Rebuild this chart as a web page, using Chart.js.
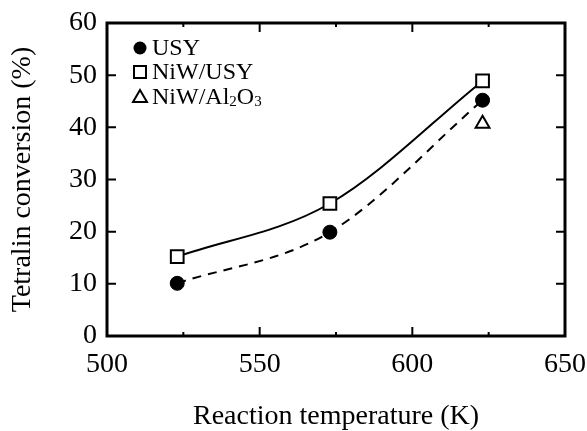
<!DOCTYPE html>
<html>
<head>
<meta charset="utf-8">
<script src="https://cdn.jsdelivr.net/npm/chart.js@4"></script>
<style>
  html, body { margin: 0; padding: 0; background: #fff; }
  #wrap { width: 587px; height: 431px; }
</style>
</head>
<body>
<div id="wrap"><canvas id="chart" width="587" height="431"></canvas></div>
<script>
// reaction temperatures (K)
const temps = [523, 573, 623];
// tetralin conversion (%)
const usy = [10.1, 19.9, 45.2];
const niwUsy = [15.2, 25.4, 48.9];
const niwAlTemps = [623];
const niwAl = [40.7];

const xTicks = [500, 550, 600, 650];
const xMinor = [525, 575, 625];
const yTicks = [0, 10, 20, 30, 40, 50, 60];

const FONT = 'Liberation Serif';

function pts(xs, ys) {
  return xs.map((x, i) => ({x: x, y: ys[i]}));
}

// frame with inward ticks on all four sides
const framePlugin = {
  id: 'frame',
  afterDraw(chart) {
    const ctx = chart.ctx;
    const a = chart.chartArea;
    const xs = chart.scales.x, ys = chart.scales.y;
    ctx.save();
    ctx.strokeStyle = '#000';
    ctx.lineWidth = 3;
    ctx.strokeRect(a.left, a.top, a.right - a.left, a.bottom - a.top);
    ctx.lineWidth = 2;
    ctx.beginPath();
    const xt = (v, len) => {
      const px = xs.getPixelForValue(v);
      ctx.moveTo(px, a.bottom); ctx.lineTo(px, a.bottom - len);
      ctx.moveTo(px, a.top); ctx.lineTo(px, a.top + len);
    };
    xTicks.forEach(v => xt(v, 9));
    xMinor.forEach(v => xt(v, 4));
    yTicks.forEach(v => {
      const py = ys.getPixelForValue(v);
      ctx.moveTo(a.left, py); ctx.lineTo(a.left + 9, py);
      ctx.moveTo(a.right, py); ctx.lineTo(a.right - 9, py);
    });
    ctx.stroke();
    ctx.restore();
  }
};

// legend with subscripts, drawn inside the plot
const legendPlugin = {
  id: 'subLegend',
  afterDraw(chart) {
    const ctx = chart.ctx;
    const x0 = 140, tx = 152;
    const rows = [48, 72, 97];
    ctx.save();
    ctx.strokeStyle = '#000';
    ctx.fillStyle = '#000';
    ctx.lineWidth = 2;
    // circle
    ctx.beginPath(); ctx.arc(x0, rows[0], 6.5, 0, Math.PI * 2); ctx.fill();
    // square
    ctx.fillStyle = '#fff';
    ctx.fillRect(x0 - 6, rows[1] - 6, 12, 12);
    ctx.strokeRect(x0 - 6, rows[1] - 6, 12, 12);
    // triangle
    ctx.beginPath();
    ctx.moveTo(x0, rows[2] - 7); ctx.lineTo(x0 + 7, rows[2] + 5); ctx.lineTo(x0 - 7, rows[2] + 5);
    ctx.closePath(); ctx.stroke();
    ctx.fillStyle = '#000';
    ctx.textBaseline = 'middle';
    ctx.font = '24px "' + FONT + '"';
    ctx.fillText('USY', tx, rows[0] + 1);
    ctx.fillText('NiW/USY', tx, rows[1] + 1);
    let s = 'NiW/Al';
    ctx.fillText(s, tx, rows[2] + 1);
    let cx = tx + ctx.measureText(s).width;
    ctx.font = '15px "' + FONT + '"';
    ctx.fillText('2', cx, rows[2] + 5);
    cx += ctx.measureText('2').width;
    ctx.font = '24px "' + FONT + '"';
    ctx.fillText('O', cx, rows[2] + 1);
    cx += ctx.measureText('O').width;
    ctx.font = '15px "' + FONT + '"';
    ctx.fillText('3', cx, rows[2] + 5);
    ctx.restore();
  }
};

new Chart(document.getElementById('chart'), {
  type: 'scatter',
  data: {
    datasets: [
      {
        label: 'NiW/USY',
        data: pts(temps, niwUsy),
        showLine: true,
        cubicInterpolationMode: 'monotone',
        borderColor: '#000',
        borderWidth: 2,
        pointStyle: 'rect',
        pointRadius: 9,
        pointBackgroundColor: '#fff',
        pointBorderColor: '#000',
        pointBorderWidth: 2
      },
      {
        label: 'USY',
        data: pts(temps, usy),
        showLine: true,
        cubicInterpolationMode: 'monotone',
        borderColor: '#000',
        borderWidth: 2,
        borderDash: [9, 7],
        pointStyle: 'circle',
        pointRadius: 7,
        pointBackgroundColor: '#000',
        pointBorderColor: '#000',
        pointBorderWidth: 1
      },
      {
        label: 'NiW/Al2O3',
        data: pts(niwAlTemps, niwAl),
        showLine: false,
        pointStyle: 'triangle',
        pointRadius: 8,
        pointBackgroundColor: '#fff',
        pointBorderColor: '#000',
        pointBorderWidth: 2
      }
    ]
  },
  options: {
    responsive: false,
    animation: false,
    layout: { padding: { top: 23, right: 22, left: 0, bottom: 0 } },
    plugins: {
      legend: { display: false },
      tooltip: { enabled: false }
    },
    scales: {
      x: {
        type: 'linear',
        min: 500, max: 650,
        afterBuildTicks: s => { s.ticks = xTicks.map(v => ({value: v})); },
        afterFit: s => { s.height = 95; s.paddingLeft = 0; s.paddingRight = 0; },
        grid: { display: false, drawTicks: false },
        border: { display: false },
        ticks: { color: '#000', padding: 12, font: { family: FONT, size: 28 } },
        title: {
          display: true,
          text: 'Reaction temperature (K)',
          color: '#000',
          font: { family: FONT, size: 28, lineHeight: 1 },
          padding: { top: 0, bottom: 0 }
        }
      },
      y: {
        min: 0, max: 60,
        afterBuildTicks: s => { s.ticks = yTicks.map(v => ({value: v})); },
        afterFit: s => { s.width = 107; s.paddingTop = 0; s.paddingBottom = 0; },
        grid: { display: false, drawTicks: false },
        border: { display: false },
        ticks: { color: '#000', padding: 10, font: { family: FONT, size: 28 } },
        title: {
          display: true,
          text: 'Tetralin conversion (%)',
          color: '#000',
          font: { family: FONT, size: 28, lineHeight: 1 },
          padding: { top: 9, bottom: 0 }
        }
      }
    }
  },
  plugins: [framePlugin, legendPlugin]
});
</script>
</body>
</html>
